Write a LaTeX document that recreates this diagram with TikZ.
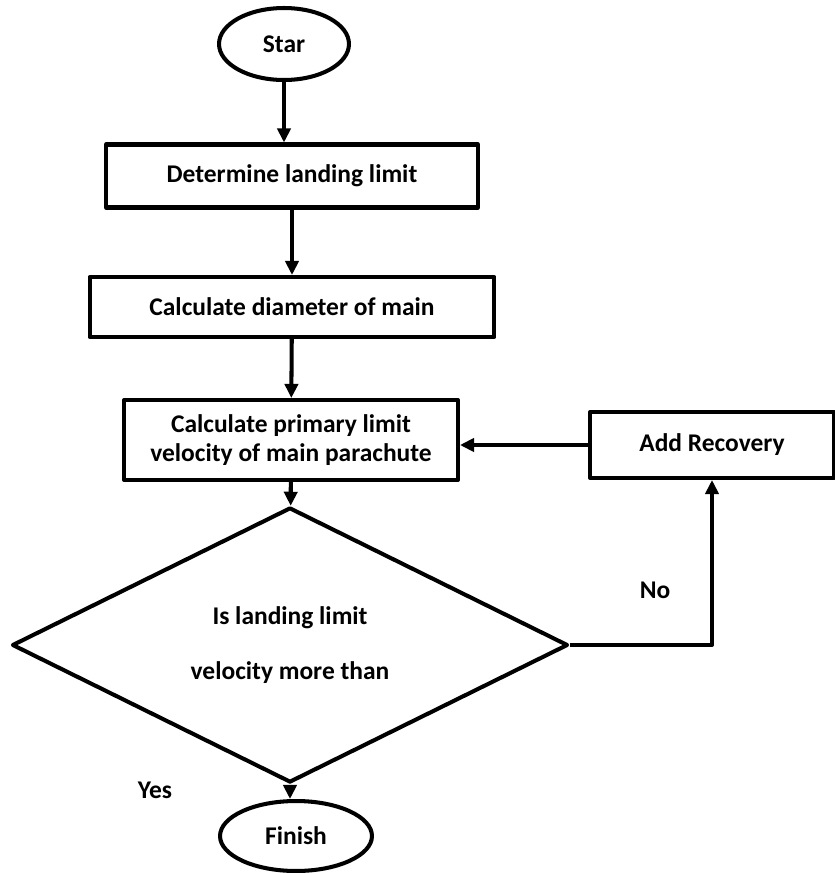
\documentclass[tikz,border=0pt]{standalone}
\usepackage{fontspec}
\setmainfont{Carlito}
\usetikzlibrary{shapes.geometric,arrows.meta}
\tikzset{
	boxnode/.style={draw, align=center, inner sep=0pt},
	endnode/.style={draw, ellipse, inner sep=0pt},
}
\begin{document}
\begin{tikzpicture}[x=0.02cm, y=-0.02cm, line width=2.3pt, font=\bfseries\fontsize{14.5}{17}\selectfont, line join=round, >={Triangle[length=8pt,width=7.5pt]}]
			\useasboundingbox (0,0) rectangle (835,873);
			\path
			(284,44)coordinate (S)
			(292,176)coordinate (P1)
			(292,307)coordinate (P2)
			(291,440)coordinate (P3)
			(290,645)coordinate (Q)
			(712,445)coordinate (R)
			(296,836)coordinate (F)
			;
			\node[endnode, minimum width=2.6cm, minimum height=1.44cm] (star) at (S) {Star};
			\node[boxnode, minimum width=7.44cm, minimum height=1.26cm] (box1) at (P1) {Determine landing limit};
			\node[boxnode, minimum width=8.1cm, minimum height=1.2cm] (box2) at (P2) {Calculate diameter of main};
			\node[boxnode, minimum width=6.68cm, minimum height=1.6cm] (box3) at (P3) {Calculate primary limit\\velocity of main parachute};
			\node[draw, diamond, align=center, inner sep=0pt, minimum width=11.12cm, minimum height=4.18cm] (dec) at (Q) {Is landing limit\\[14pt]velocity more than};
			\node[boxnode, minimum width=4.88cm, minimum height=1.32cm] (rec) at (R) {Add Recovery};
			\node[endnode, minimum width=3.04cm, minimum height=1.4cm] (fin) at (F) {Finish};
			\node (yes) at (155,790) {Yes};
			\node (no) at (655,590) {No};
			
			\draw[->] (star) -- (star |- box1.north);
			\foreach \a/\b in {box1/box2,box2/box3,box3/dec}\draw[->] (\a) -- (\b);
			\draw[->] (dec) -- (dec |- fin.north);
			\draw[->] (rec) -- (rec -| box3.east);
			\draw[->] (dec.east) -| (rec.south);
		\end{tikzpicture}
\end{document}
